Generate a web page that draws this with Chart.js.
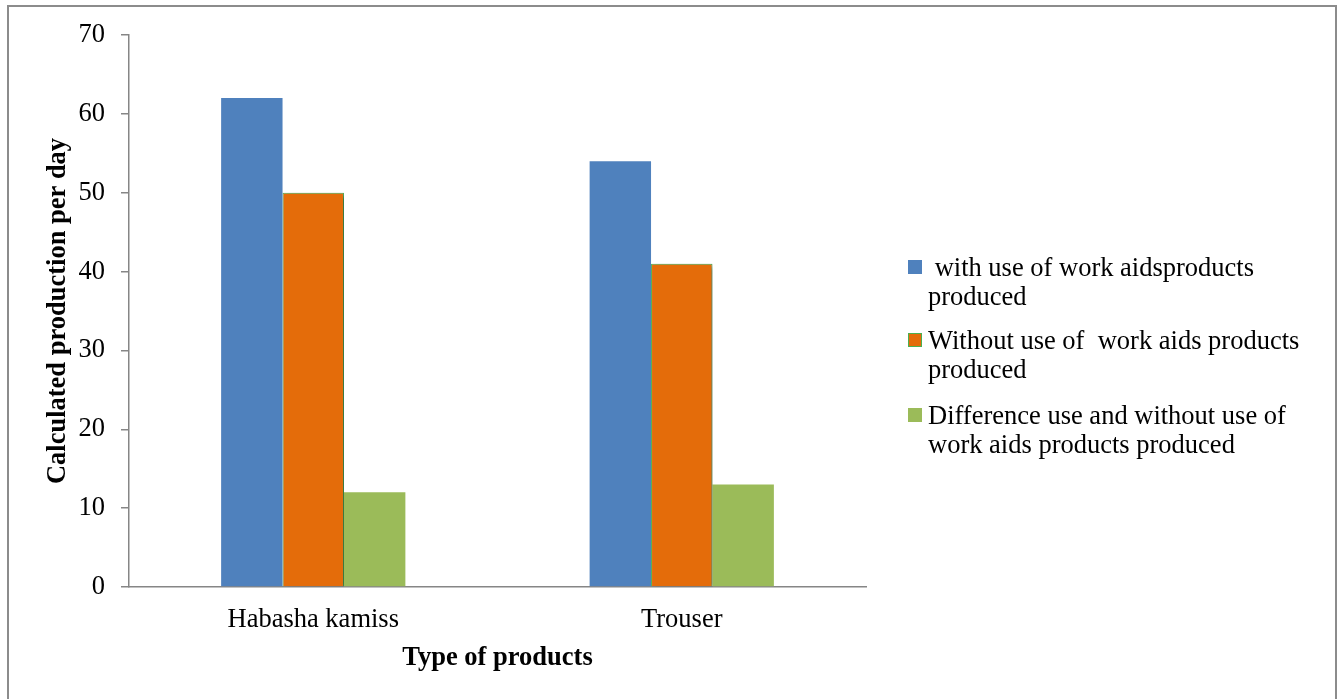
<!DOCTYPE html>
<html>
<head>
<meta charset="utf-8">
<script src="https://cdn.jsdelivr.net/npm/chart.js@4"></script>
<style>
    html, body { margin: 0; padding: 0; background: #fff; }
    #wrap { position: relative; width: 1339px; height: 699px; }
</style>
</head>
<body>
<div id="wrap"><canvas id="chart" width="1339" height="699"></canvas></div>
<script>
// ------------------------------------------------------
// Data
// ------------------------------------------------------
const categories = ['Habasha kamiss', 'Trouser'];
const withAids = [62, 54];
const withoutAids = [50, 41];
const difference = [12, 13];
const seriesLabels = [
    [' with use of work aidsproducts', 'produced'],
    ['Without use of  work aids products', 'produced'],
    ['Difference use and without use of', 'work aids products produced']
];
const yTicks = [0, 10, 20, 30, 40, 50, 60, 70];

const COLORS = ['#4F81BD', '#E46C0A', '#9BBB59'];
const FONT = '"Liberation Serif", "Times New Roman", serif';
const FSIZE = 26.5;
const AXIS_GRAY = '#868686';

// frame round the whole figure
const framePlugin = {
    id: 'frame',
    beforeDraw(chart) {
        const ctx = chart.ctx;
        ctx.save();
        ctx.fillStyle = '#fff';
        ctx.fillRect(0, 0, chart.width, chart.height);
        ctx.strokeStyle = '#8c8c8c';
        ctx.lineWidth = 2;
        ctx.strokeRect(8, 6, 1328, 700);
        ctx.restore();
    }
};

// soft shadow behind the orange bars, like the Office original
const shadowPlugin = {
    id: 'barShadow',
    beforeDatasetDraw(chart, args) {
        if (args.index !== 1) return;
        const ctx = chart.ctx;
        ctx.save();
        ctx.shadowColor = 'rgba(0,0,0,0.45)';
        ctx.shadowBlur = 5;
        ctx.shadowOffsetX = 3;
        ctx.shadowOffsetY = 2;
    },
    afterDatasetDraw(chart, args) {
        if (args.index !== 1) return;
        chart.ctx.restore();
    }
};

// legend on the right, with wrapped labels
const sideLegend = {
    id: 'sideLegend',
    afterDraw(chart) {
        const ctx = chart.ctx;
        const boxX = 908, textX = 928, box = 14;
        const firstY = [267, 340, 415];
        ctx.save();
        ctx.font = FSIZE + 'px ' + FONT;
        ctx.textBaseline = 'middle';
        chart.data.datasets.forEach((ds, i) => {
            const y = firstY[i];
            ctx.fillStyle = ds.backgroundColor;
            ctx.fillRect(boxX, y - box / 2, box, box);
            if (ds.borderWidth) {
                ctx.strokeStyle = ds.borderColor;
                ctx.lineWidth = 1;
                ctx.strokeRect(boxX + 0.5, y - box / 2 + 0.5, box - 1, box - 1);
            }
            ctx.fillStyle = '#000';
            seriesLabels[i].forEach((line, j) => ctx.fillText(line, textX, y + 2 + j * 29.5));
        });
        ctx.restore();
    }
};

new Chart(document.getElementById('chart'), {
    type: 'bar',
    data: {
        labels: categories,
        datasets: [
            { label: seriesLabels[0].join(' '), data: withAids, backgroundColor: COLORS[0], borderWidth: 0 },
            { label: seriesLabels[1].join(' '), data: withoutAids, backgroundColor: COLORS[1], borderColor: '#4CAF50', borderWidth: 1 },
            { label: seriesLabels[2].join(' '), data: difference, backgroundColor: COLORS[2], borderWidth: 0 }
        ]
    },
    options: {
        responsive: false,
        animation: false,
        layout: { padding: { left: 10, right: 473, top: 35, bottom: 10 } },
        categoryPercentage: 0.5,
        barPercentage: 1.0,
        plugins: {
            legend: { display: false },
            tooltip: { enabled: false }
        },
        scales: {
            x: {
                grid: { display: true, drawOnChartArea: false, drawTicks: false, color: AXIS_GRAY },
                border: { display: true, color: AXIS_GRAY, width: 1.5 },
                ticks: { color: '#000', font: { family: FONT, size: FSIZE }, padding: 17 },
                title: {
                    display: true, text: 'Type of products', color: '#000',
                    font: { family: FONT, size: FSIZE, weight: 'bold' },
                    padding: { top: 0, bottom: 15 }
                },
                afterFit(scale) { scale.height = 699 - 587 - 10; }
            },
            y: {
                min: 0,
                max: 70,
                afterBuildTicks(scale) { scale.ticks = yTicks.map(v => ({ value: v })); },
                grid: { display: true, drawOnChartArea: false, drawTicks: true, tickLength: 8, color: AXIS_GRAY, lineWidth: 1.5 },
                border: { display: true, color: AXIS_GRAY, width: 1.5 },
                ticks: { color: '#000', font: { family: FONT, size: FSIZE }, padding: 16 },
                title: {
                    display: true, text: 'Calculated production per day', color: '#000',
                    font: { family: FONT, size: FSIZE, weight: 'bold' },
                    padding: { top: 32, bottom: 0 }
                },
                afterFit(scale) { scale.width = 129 - 10; }
            }
        }
    },
    plugins: [framePlugin, shadowPlugin, sideLegend]
});
</script>
</body>
</html>
